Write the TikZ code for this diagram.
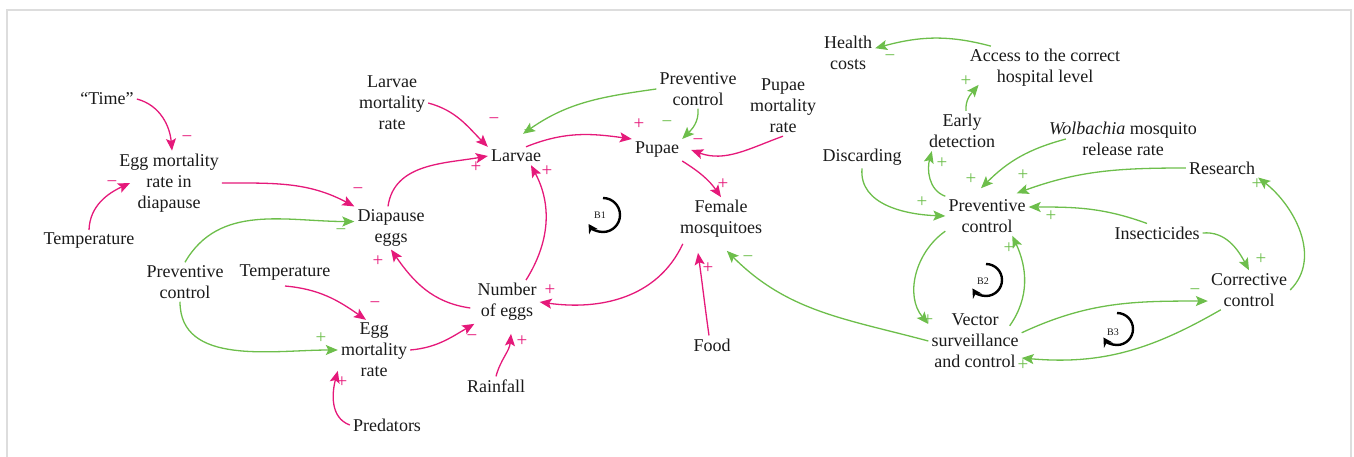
\documentclass[tikz,border=0pt]{standalone}
\usepackage{fontspec}
\setmainfont{Liberation Serif}
\usepackage{tikz}
\usetikzlibrary{arrows.meta}
\definecolor{CLDPink}{HTML}{E5197A}
\definecolor{CLDGreen}{HTML}{6DBE4B}
\definecolor{CLDInk}{HTML}{1A1A1A}
\definecolor{CLDFrame}{HTML}{DDDDDD}
\tikzset{
  flowpink/.style={-{Stealth[length=12pt,width=10pt,inset=2.5pt]},CLDPink,line width=1.3pt},
  flowgreen/.style={flowpink,CLDGreen},
  factor/.style={text=CLDInk,align=center,inner sep=3pt,
                 font=\fontsize{18}{21}\selectfont},
  signpink/.style={text=CLDPink,inner sep=0pt,font=\fontsize{19}{19}\selectfont},
  signgreen/.style={signpink,text=CLDGreen},
  loopname/.style={text=CLDInk,inner sep=0pt,font=\fontsize{10}{11}\selectfont},
  looparc/.style={-{Stealth[length=9pt,width=10pt]},black,line width=2.4pt},
}

\begin{document}
\begin{tikzpicture}[x=1pt,y=1pt]
    \useasboundingbox (0,0) rectangle (1354,-457);
    \draw[CLDFrame,line width=1.6pt] (7,-470) -- (7,-10) -- (1351,-10) -- (1351,-470);

    % ------------------------------------------------------------- egg stage
    \node[factor] (time)   at (107,-99)  {“Time”};
    \node[factor] (eggdia) at (169,-183) {Egg mortality\\rate in\\diapause};
    \node[factor] (templ)  at (89,-241)  {Temperature};
    \node[factor] (prevl)  at (185,-282) {Preventive\\control};
    \node[factor] (tempm)  at (285,-273) {Temperature};
    \node[factor] (diap)   at (391,-228) {Diapause\\eggs};
    \node[factor] (eggm)   at (374,-350) {Egg\\mortality\\rate};
    \node[factor] (pred)   at (387,-425) {Predators};

    % --------------------------------------------------- larvae, pupae, adults
    \node[factor] (larvmr)  at (392,-103) {Larvae\\mortality\\rate};
    \node[factor] (larvae)  at (516,-156) {Larvae};
    \node[factor] (numeggs) at (507,-302) {Number\\of eggs};
    \node[factor] (rain)    at (496,-386) {Rainfall};
    \node[factor] (prevt)   at (698,-89)  {Preventive\\control};
    \node[factor] (pupae)   at (657,-150) {Pupae};
    \node[factor] (pupmr)   at (783,-106) {Pupae\\mortality\\rate};
    \node[factor] (female)  at (721,-219) {Female\\mosquitoes};
    \node[factor] (food)    at (712,-345) {Food};

    % ------------------------------------------------------- control measures
    \node[factor] (health)   at (848,-53)   {Health\\costs};
    \node[factor] (access)   at (1045,-68)  {Access to the correct\\hospital level};
    \node[factor] (early)    at (962,-131)  {Early\\detection};
    \node[factor] (disc)     at (862,-157)  {Discarding};
    \node[factor] (wolb)     at (1123,-139) {\textit{Wolbachia} mosquito\\release rate};
    \node[factor] (research) at (1222,-168) {Research};
    \node[factor] (prevr)    at (987,-216)  {Preventive\\control};
    \node[factor] (insect)   at (1157,-233) {Insecticides};
    \node[factor] (corr)     at (1249,-290) {Corrective\\control};
    \node[factor] (vector)   at (975,-341)  {Vector\\surveillance\\and control};

    % ------------------------------------------------------------ pink links
    \draw[flowpink] (time.east) to[out=-15,in=95] ([xshift=3]eggdia.north);
    \draw[flowpink] (templ.north) to[out=88,in=205] ([xshift=14]eggdia.west);
    \draw[flowpink] (eggdia.east) to[out=0,in=152] (diap.north west);
    \draw[flowpink] ([xshift=-3]diap.north) to[out=82,in=190] (larvae.west);
    \draw[flowpink] (larvmr.east) to[out=-15,in=135] (larvae.north west);
    \draw[flowpink] ([xshift=10]larvae.north) to[out=22,in=172] (pupae.north west);
    \draw[flowpink] ([xshift=19]numeggs.north) to[out=58,in=-62] ([xshift=15]larvae.south);
    \draw[flowpink] ([xshift=-4,yshift=-6]numeggs.west) to[out=172,in=-55] (diap.south);
    \draw[flowpink] (eggm.east) to[out=5,in=-150] (numeggs.south west);
    \draw[flowpink] ([yshift=-2]tempm.south) to[out=-5,in=145] ([xshift=-8]eggm.north);
    \draw[flowpink] (pred.west) to[out=160,in=-105] (eggm.-150);
    \draw[flowpink] (rain.north) to[out=75,in=-95] ([xshift=4,yshift=-10]numeggs.south);
    \draw[flowpink] ([xshift=6,yshift=-3]female.south west) to[out=-115,in=-8] (numeggs.east);
    \draw[flowpink] (pupae.south east) to[out=-32,in=125] (female.north);
    \draw[flowpink] (pupmr.south) to[out=-160,in=-20] ([xshift=9]pupae.east);
    \draw[flowpink] ([xshift=-3]food.north) to[out=98,in=-82] ([xshift=-23,yshift=-12]female.south);

    % ----------------------------------------------------------- green links
    \draw[flowgreen] (prevt.west) to[out=188,in=35] ([shift={(7,13)}]larvae.north);
    \draw[flowgreen] (prevt.south) to[out=-85,in=45] (pupae.north east);
    \draw[flowgreen] (prevl.north) to[out=60,in=180] (diap.170);
    \draw[flowgreen] ([xshift=-5]prevl.south) to[out=-90,in=180] (eggm.west);
    \draw[flowgreen] (vector.west) to[out=165,in=-45] ([yshift=-10]female.-75);
    \draw[flowgreen] (access.158) to[out=165,in=15] (health.10);
    \draw[flowgreen] ([xshift=4]early.north) to[out=95,in=-130] ([xshift=12,yshift=5]access.south west);
    \draw[flowgreen] (prevr.north west) to[out=160,in=-105] ([xshift=6]early.south west);
    \draw[flowgreen] (disc.south) to[out=-95,in=178] (prevr.west);
    \draw[flowgreen] ([xshift=20]wolb.west) to[out=195,in=45] ([xshift=-6,yshift=8]prevr.north);
    \draw[flowgreen] (research.west) to[out=180,in=20] ([xshift=-12,yshift=3]prevr.north east);
    \draw[flowgreen] ([xshift=-10]insect.north) to[out=160,in=0] ([yshift=9]prevr.east);
    \draw[flowgreen] (insect.east) to[out=5,in=118] (corr.north);
    \draw[flowgreen] (corr.east) to[out=45,in=-38] (research.south east);
    \draw[flowgreen] (prevr.-160) to[out=-145,in=130] (vector.160);
    \draw[flowgreen] ([xshift=-12]vector.18) to[out=55,in=-65] (prevr.-38);
    \draw[flowgreen] (vector.10) to[out=25,in=180] (corr.-165);
    \draw[flowgreen] (corr.-145) to[out=-150,in=-5] (vector.-20);

    % ----------------------------------------------------------------- signs
    \node[signpink] (s1)  at (187,-139) {−};
    \node[signpink] (s2)  at (112,-184) {−};
    \node[signpink] (s3)  at (358,-191) {−};
    \node[signpink] (s4)  at (476,-167) {+};
    \node[signpink] (s5)  at (494,-121) {−};
    \node[signpink] (s6)  at (639,-124) {+};
    \node[signpink] (s7)  at (547,-171) {+};
    \node[signpink] (s8)  at (378,-261) {+};
    \node[signpink] (s9)  at (472,-338) {−};
    \node[signpink] (s10) at (375,-305) {−};
    \node[signpink] (s11) at (342,-382) {+};
    \node[signpink] (s12) at (522,-341) {+};
    \node[signpink] (s13) at (550,-290) {+};
    \node[signpink] (s14) at (723,-184) {+};
    \node[signpink] (s15) at (698,-142) {−};
    \node[signpink] (s16) at (708,-268) {+};
    \node[signgreen] (s17) at (529,-133)  {−};
    \node[signgreen] (s18) at (667,-124)  {−};
    \node[signgreen] (s19) at (341,-232)  {−};
    \node[signgreen] (s20) at (321,-338)  {+};
    \node[signgreen] (s21) at (748,-259)  {−};
    \node[signgreen] (s22) at (890,-58)   {−};
    \node[signgreen] (s23) at (966,-81)   {+};
    \node[signgreen] (s24) at (942,-163)  {+};
    \node[signgreen] (s25) at (922,-202)  {+};
    \node[signgreen] (s26) at (971,-179)  {+};
    \node[signgreen] (s27) at (1023,-175) {+};
    \node[signgreen] (s28) at (1051,-216) {+};
    \node[signgreen] (s29) at (1261,-259) {+};
    \node[signgreen] (s30) at (1257,-184) {+};
    \node[signgreen] (s31) at (928,-320)  {+};
    \node[signgreen] (s32) at (1009,-248) {+};
    \node[signgreen] (s33) at (1195,-292) {−};
    \node[signgreen] (s34) at (1023,-365) {+};

    % ----------------------------------------------------------- loop marks
    \node[loopname] (b1) at (600,-215) {B1};
    \node[loopname] (b2) at (983,-281) {B2};
    \node[loopname] (b3) at (1113,-332) {B3};
    \draw[looparc] ([shift={(3,17)}]b1.center) arc[start angle=90,end angle=-148,radius=17pt];
    \draw[looparc] ([shift={(3,17)}]b2.center) arc[start angle=90,end angle=-148,radius=16pt];
    \draw[looparc] ([shift={(4,19)}]b3.center) arc[start angle=90,end angle=-148,radius=16pt];
\end{tikzpicture}
\end{document}
